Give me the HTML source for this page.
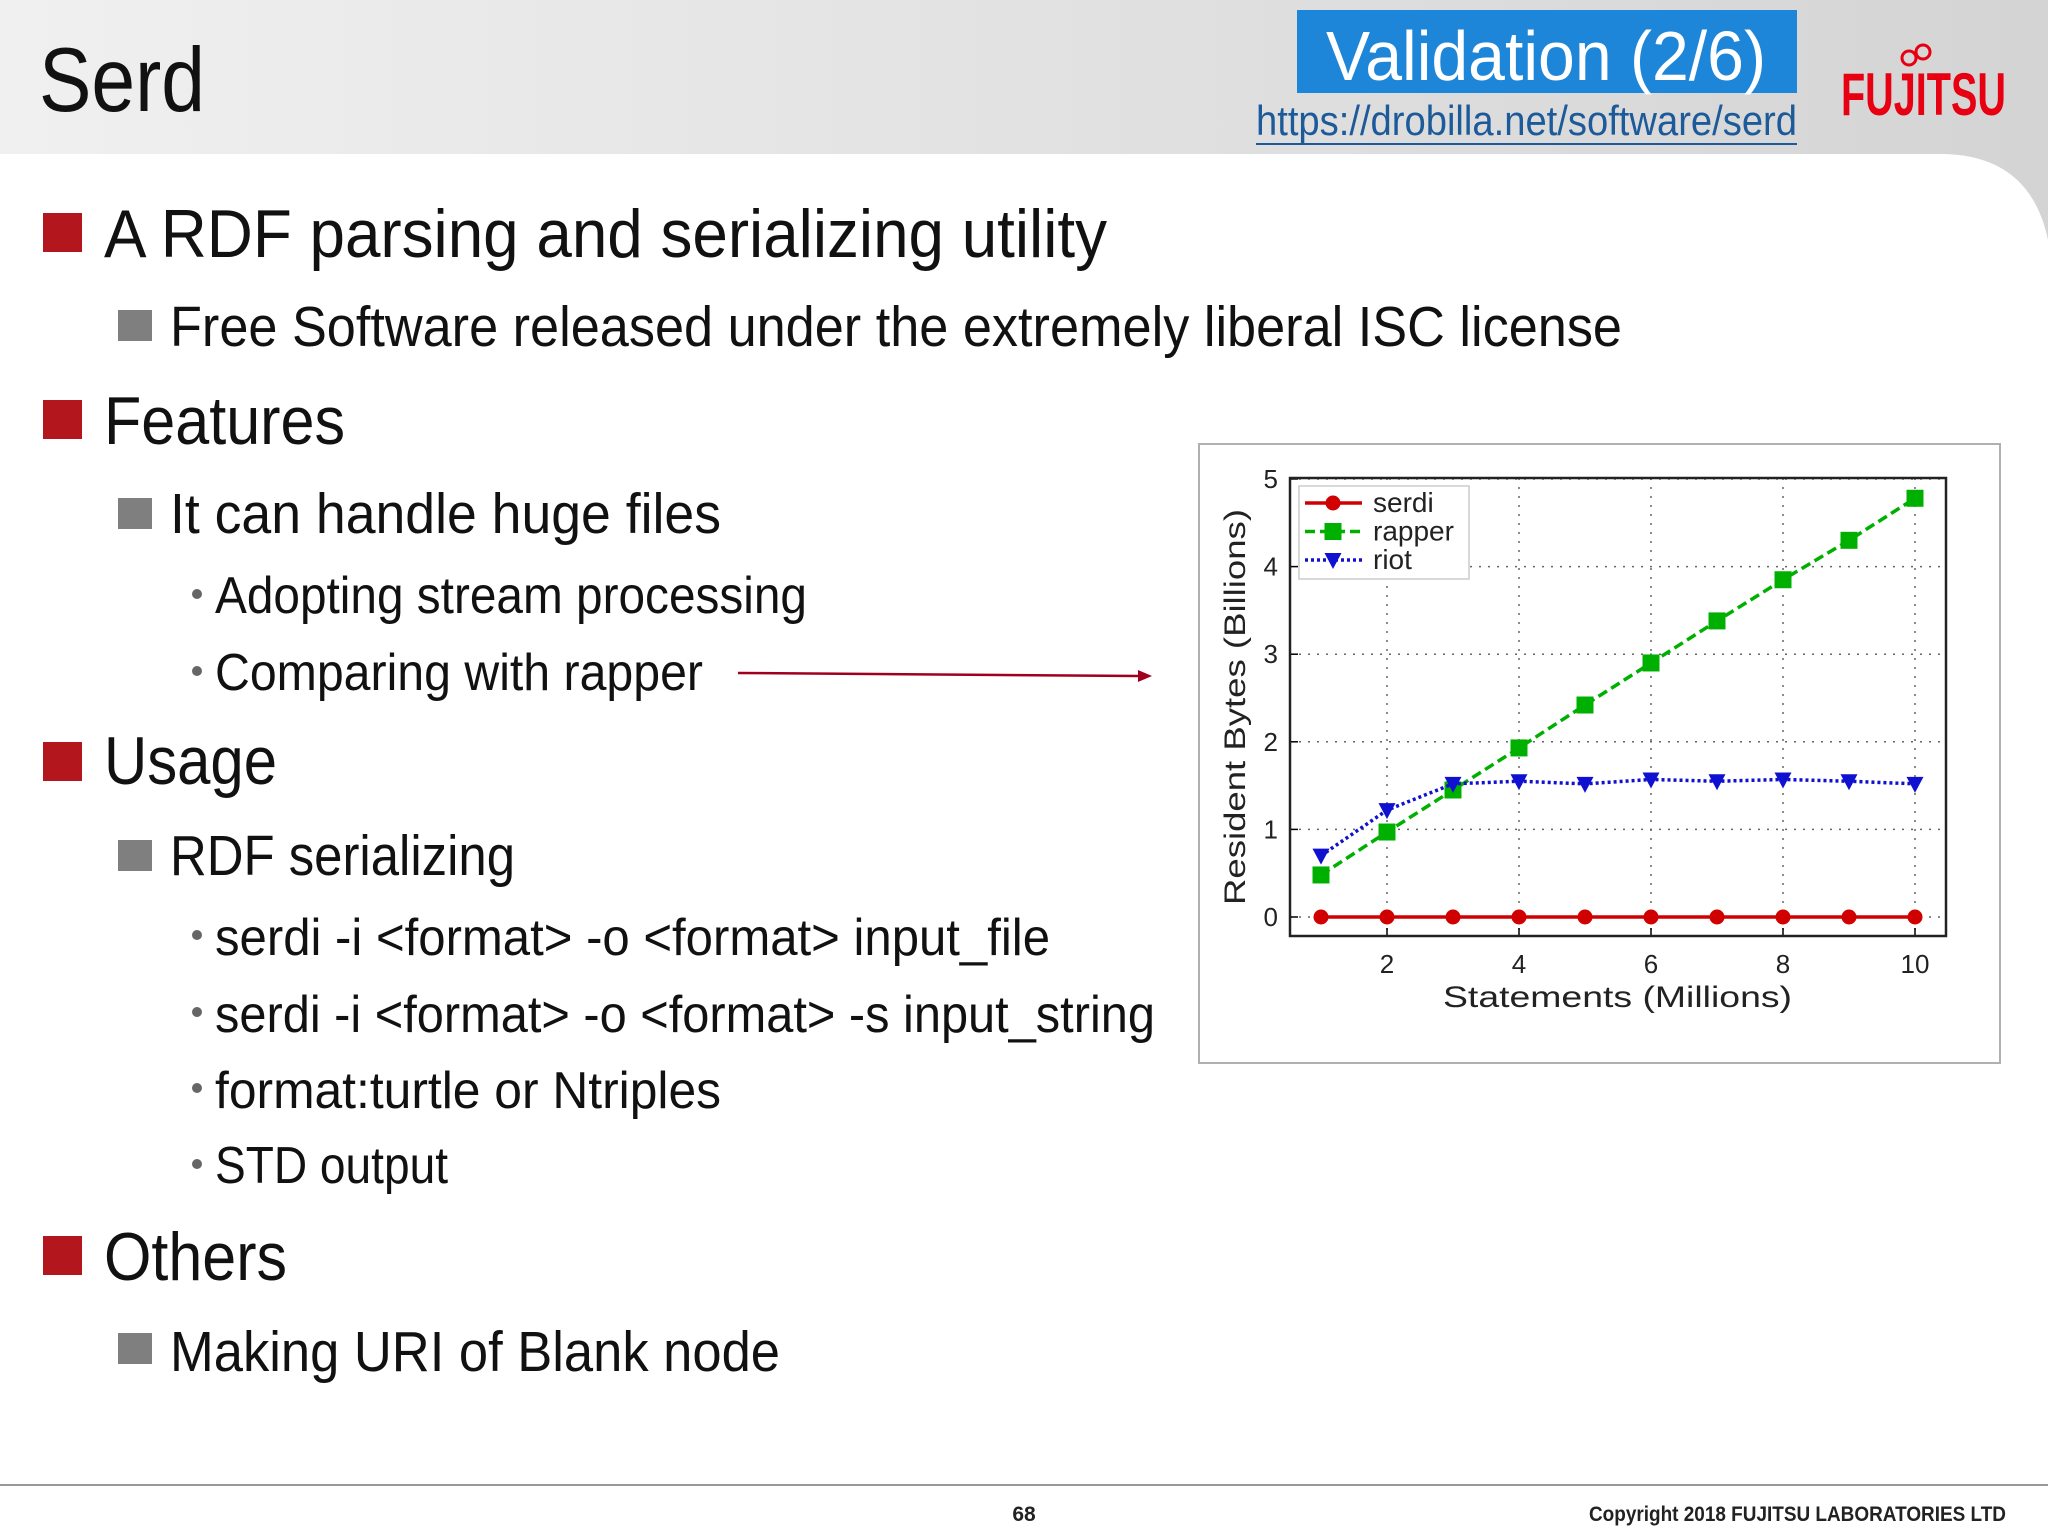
<!DOCTYPE html>
<html><head><meta charset="utf-8"><style>
html,body{margin:0;padding:0;background:#fff;}
svg{display:block;}
text{font-family:"Liberation Sans Narrow","Liberation Sans",sans-serif;}
</style></head><body>
<svg id="page" width="2048" height="1536" viewBox="0 0 2048 1536" xmlns="http://www.w3.org/2000/svg">
<defs>
<linearGradient id="hg" x1="0" y1="0" x2="1" y2="0"><stop offset="0" stop-color="#f0f0f0"/><stop offset="1" stop-color="#d4d4d4"/></linearGradient>
</defs>
<rect x="0" y="0" width="2048" height="300" fill="url(#hg)"/>
<path d="M0 154 L1940 154 Q2030 154 2048 240 L2048 1536 L0 1536 Z" fill="#fff"/>
<text x="39" y="111" font-size="91" textLength="166" lengthAdjust="spacingAndGlyphs" fill="#111">Serd</text>
<rect x="1297" y="10" width="500" height="83" fill="#1e86d9"/>
<text x="1326" y="80" font-size="70" textLength="440" lengthAdjust="spacingAndGlyphs" fill="#fff">Validation (2/6)</text>
<text x="1256" y="135" font-size="42" textLength="541" lengthAdjust="spacingAndGlyphs" fill="#1d5a9a">https://drobilla.net/software/serd</text>
<rect x="1256" y="143" width="541" height="2" fill="#1d5a9a"/>
<text x="1841" y="115" font-size="60" font-weight="bold" textLength="165" lengthAdjust="spacingAndGlyphs" fill="#e60012">FUJITSU</text>
<g fill="none" stroke="#e60012" stroke-width="3"><circle cx="1909" cy="58" r="7"/><circle cx="1923" cy="52" r="7"/></g>

<g fill="#111">
<rect x="43" y="213" width="39" height="39" fill="#b4161e"/>
<text x="104" y="257" font-size="68" textLength="1003" lengthAdjust="spacingAndGlyphs">A RDF parsing and serializing utility</text>
<rect x="118" y="310" width="34" height="31" fill="#7f7f7f"/>
<text x="170" y="346" font-size="57" textLength="1452" lengthAdjust="spacingAndGlyphs">Free Software released under the extremely liberal ISC license</text>
<rect x="43" y="400" width="39" height="39" fill="#b4161e"/>
<text x="104" y="444" font-size="68" textLength="241" lengthAdjust="spacingAndGlyphs">Features</text>
<rect x="118" y="498" width="34" height="31" fill="#7f7f7f"/>
<text x="170" y="533" font-size="57" textLength="551" lengthAdjust="spacingAndGlyphs">It can handle huge files</text>
<circle cx="197" cy="594" r="5" fill="#666"/>
<text x="215" y="613" font-size="52" textLength="592" lengthAdjust="spacingAndGlyphs">Adopting stream processing</text>
<circle cx="197" cy="671" r="5" fill="#666"/>
<text x="215" y="690" font-size="52" textLength="488" lengthAdjust="spacingAndGlyphs">Comparing with rapper</text>
<rect x="43" y="742" width="39" height="39" fill="#b4161e"/>
<text x="104" y="784" font-size="68" textLength="173" lengthAdjust="spacingAndGlyphs">Usage</text>
<rect x="118" y="840" width="34" height="31" fill="#7f7f7f"/>
<text x="170" y="875" font-size="57" textLength="345" lengthAdjust="spacingAndGlyphs">RDF serializing</text>
<circle cx="197" cy="935" r="5" fill="#666"/>
<text x="215" y="955" font-size="52" textLength="835" lengthAdjust="spacingAndGlyphs">serdi -i &lt;format&gt; -o &lt;format&gt; input_file</text>
<circle cx="197" cy="1012" r="5" fill="#666"/>
<text x="215" y="1032" font-size="52" textLength="940" lengthAdjust="spacingAndGlyphs">serdi -i &lt;format&gt; -o &lt;format&gt; -s input_string</text>
<circle cx="197" cy="1088" r="5" fill="#666"/>
<text x="215" y="1108" font-size="52" textLength="506" lengthAdjust="spacingAndGlyphs">format:turtle or Ntriples</text>
<circle cx="197" cy="1164" r="5" fill="#666"/>
<text x="215" y="1183" font-size="52" textLength="233" lengthAdjust="spacingAndGlyphs">STD output</text>
<rect x="43" y="1236" width="39" height="39" fill="#b4161e"/>
<text x="104" y="1280" font-size="68" textLength="183" lengthAdjust="spacingAndGlyphs">Others</text>
<rect x="118" y="1333" width="34" height="31" fill="#7f7f7f"/>
<text x="170" y="1371" font-size="57" textLength="610" lengthAdjust="spacingAndGlyphs">Making URI of Blank node</text>
</g>
<g>
<line x1="738" y1="673" x2="1140" y2="676" stroke="#a0001e" stroke-width="2.5"/>
<polygon points="1152,676 1138,670 1138,682" fill="#a0001e"/>
</g>

<rect x="1199" y="444" width="801" height="619" fill="#fff" stroke="#b0b0b0" stroke-width="2"/>
<g id="chart"></g>

<line x1="0" y1="1485" x2="2048" y2="1485" stroke="#999" stroke-width="2"/>
<text x="1024" y="1521" font-size="21" text-anchor="middle" font-weight="bold" fill="#222">68</text>
<text x="2006" y="1521" font-size="21" text-anchor="end" font-weight="bold" textLength="417" lengthAdjust="spacingAndGlyphs" fill="#222">Copyright 2018 FUJITSU LABORATORIES LTD</text>
</svg>
<script>
const xValues = [1,2,3,4,5,6,7,8,9,10];
const serdiValues = [0.0,0.0,0.0,0.0,0.0,0.0,0.0,0.0,0.0,0.0];
const rapperValues = [0.48,0.97,1.45,1.93,2.42,2.9,3.38,3.85,4.3,4.78];
const riotValues = [0.7,1.22,1.52,1.55,1.52,1.57,1.55,1.57,1.55,1.52];
const yTicks = [0,1,2,3,4,5];
const xTicks = [2,4,6,8,10];
const seriesNames = ["serdi","rapper","riot"];

const NS="http://www.w3.org/2000/svg";
const g=document.getElementById('chart');
const L=1290,R=1946,T=478,B=936;
const X0=1321, XU=66, Y0=917, YU=87.6;
const sx=v=>X0+(v-1)*XU, sy=v=>Y0-v*YU;
function mk(tag,attrs,parent){const e=document.createElementNS(NS,tag);for(const k in attrs)e.setAttribute(k,attrs[k]);(parent||g).appendChild(e);return e;}
yTicks.forEach(t=>{
  const l=mk('line',{x1:L,x2:R,y1:sy(t),y2:sy(t),stroke:'#666','stroke-width':1.5,'stroke-dasharray':'2,7'});
  
  
  mk('line',{x1:L,x2:L+8,y1:sy(t),y2:sy(t),stroke:'#000','stroke-width':1.5});
  const tx=mk('text',{x:L-12,y:sy(t)+9,'font-size':26,'text-anchor':'end',fill:'#222'});
  tx.textContent=t;
  
  
});
xTicks.forEach(t=>{
  const l=mk('line',{x1:sx(t),x2:sx(t),y1:T,y2:B,stroke:'#666','stroke-width':1.5,'stroke-dasharray':'2,7'});
  
  
  mk('line',{x1:sx(t),x2:sx(t),y1:B,y2:B-8,stroke:'#000','stroke-width':1.5});
  const tx=mk('text',{x:sx(t),y:B+37,'font-size':26,'text-anchor':'middle',fill:'#222'});
  tx.textContent=t;
  
  
});
const fr=mk('rect',{x:L,y:T,width:R-L,height:B-T,fill:'none',stroke:'#222','stroke-width':2.5});


const yl=mk('text',{x:1245,y:707,'font-size':30,'text-anchor':'middle',fill:'#222',transform:'rotate(-90 1245 707)',textLength:396,lengthAdjust:'spacingAndGlyphs'});
yl.textContent='Resident Bytes (Billions)';


const xl=mk('text',{x:1443,y:1007,'font-size':30,fill:'#222',textLength:349,lengthAdjust:'spacingAndGlyphs'});
xl.textContent='Statements (Millions)';



const styles=[
 {vals:serdiValues,color:'#d00000',dash:'',marker:'circle',name:'serdi-series'},
 {vals:rapperValues,color:'#00b000',dash:'10,5',marker:'square',name:'rapper-series'},
 {vals:riotValues,color:'#1010d0',dash:'3,3',marker:'tri',name:'riot-series'}];
function marker(type,x,y,color,parent){
  let m;
  if(type==='circle') m=mk('circle',{cx:x,cy:y,r:7.5,fill:color},parent);
  else if(type==='square') m=mk('rect',{x:x-8.5,y:y-8.5,width:17,height:17,fill:color},parent);
  else m=mk('polygon',{points:`${x-8.5},${y-7} ${x+8.5},${y-7} ${x},${y+9}`,fill:color},parent);
  return m;
}
styles.forEach(s=>{
  const sg=mk('g',{});
  
  
  const pts=xValues.map((x,i)=>sx(x)+','+sy(s.vals[i])).join(' ');
  mk('polyline',{points:pts,fill:'none',stroke:s.color,'stroke-width':3.5,'stroke-dasharray':s.dash},sg);
  xValues.forEach((x,i)=>{
    const m=marker(s.marker,sx(x),sy(s.vals[i]),s.color,sg);
    
    
  });
});
const lg=mk('g',{});


mk('rect',{x:1299,y:486,width:170,height:93,fill:'#fff',stroke:'#ccc','stroke-width':1.5},lg);
styles.forEach((s,i)=>{
  const y=503+i*28.5;
  const eg=mk('g',{},lg);
  
  
  mk('line',{x1:1305,x2:1362,y1:y,y2:y,stroke:s.color,'stroke-width':3.5,'stroke-dasharray':s.dash},eg);
  marker(s.marker,1333,y,s.color,eg);
  const t=mk('text',{x:1373,y:y+9,'font-size':28,fill:'#222'},eg);
  t.textContent=seriesNames[i];
});
</script>
</body></html>
